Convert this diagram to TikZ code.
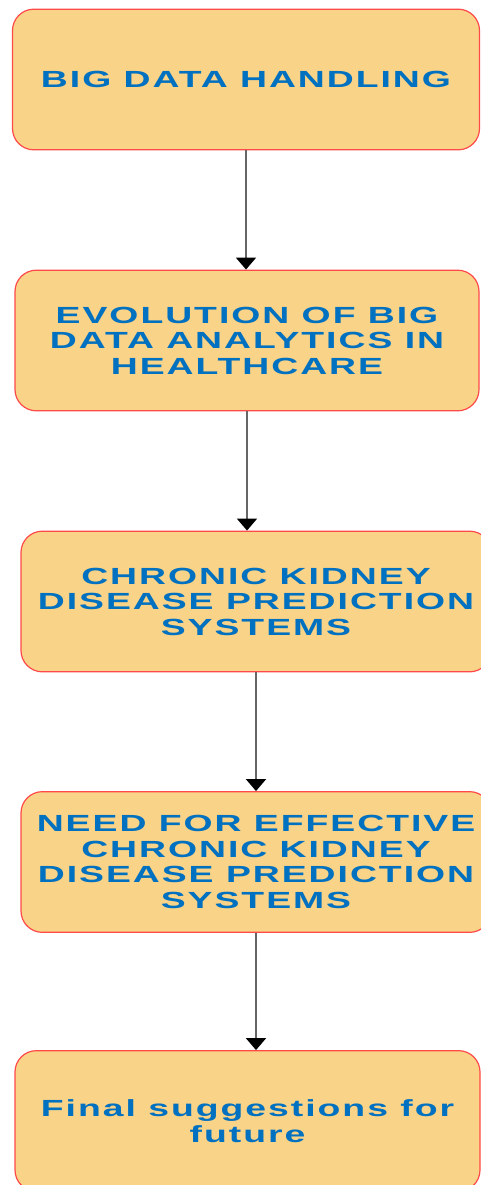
\documentclass[tikz,border=0pt]{standalone}
\usepackage{fontspec}
\newfontfamily\boxfont{Liberation Sans}[UprightFont=* Bold,FakeStretch=1.6,LetterSpace=8.5]
\usetikzlibrary{arrows.meta}
\definecolor{boxfill}{HTML}{F9D387}
\definecolor{boxline}{HTML}{FF4A4A}
\definecolor{boxtext}{HTML}{0070C0}
\begin{document}
\begin{tikzpicture}[x=0.75pt,y=-0.75pt,
  box/.style={draw=boxline,line width=0.9pt,fill=boxfill,rounded corners=16pt,
    minimum height=105.5pt,align=center,text=boxtext,
    font=\boxfont\fontsize{17.5}{19.1}\selectfont},
  flow/.style={draw=black!60,line width=1.5pt,
    -{Triangle[width=15pt,length=9pt,color=black]}}]
\useasboundingbox (0,0) rectangle (480,1185);
\node at (246,79.5) [box,minimum width=350.25pt](b1){BIG DATA HANDLING};
\node at (247,340.5) [box,minimum width=348pt](b2){EVOLUTION OF BIG\\DATA ANALYTICS IN\\HEALTHCARE};
\node at (256,601.5) [box,minimum width=352.5pt](b3){CHRONIC KIDNEY\\DISEASE PREDICTION\\SYSTEMS};
\node at (256,862) [box,minimum width=352.5pt](b4){NEED FOR EFFECTIVE\\CHRONIC KIDNEY\\DISEASE PREDICTION\\SYSTEMS};
\node at (247.5,1121) [box,minimum width=348.75pt](b5){Final suggestions for\\future};
\draw[flow] (b1.south) -- (b1.south |- b2.north);
\draw[flow] (b2.south) -- (b2.south |- b3.north);
\draw[flow] (b3.south) -- (b3.south |- b4.north);
\draw[flow] (b4.south) -- (b4.south |- b5.north);
\end{tikzpicture}
\end{document}
